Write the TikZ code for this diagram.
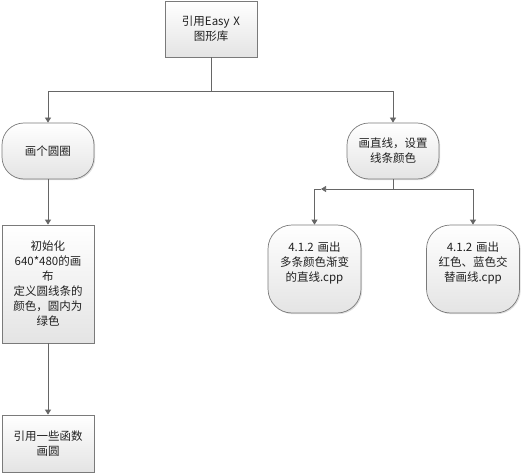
\documentclass[tikz,border=0pt]{standalone}
\usepackage{fontspec}
\setmainfont{Noto Sans CJK SC}
\usetikzlibrary{shadows,arrows.meta}
\definecolor{edgegray}{HTML}{7A7A7A}
\definecolor{linegray}{HTML}{666666}
\definecolor{txt}{HTML}{202020}
\definecolor{fillbot}{HTML}{E4E4E4}
\tikzset{
  base/.style={draw=edgegray, line width=0.7pt, top color=white, bottom color=fillbot,
    text=txt, align=center, font=\fontsize{11.5}{15}\selectfont, inner sep=1pt,
    drop shadow={opacity=0.25, shadow xshift=1.2pt, shadow yshift=-1.2pt}},
  sqbox/.style={base, rectangle, minimum width=92pt, text width=88pt},
  rbox/.style={base, rectangle, rounded corners=22pt, minimum width=92pt, minimum height=56pt, text width=86pt},
  bbox/.style={base, rectangle, rounded corners=24pt, minimum width=93pt, minimum height=88pt, text width=88pt},
  conn/.style={draw=linegray, line width=0.7pt},
  arr/.style={conn, -{Triangle[width=6pt,length=5pt]}, color=linegray}
}
\begin{document}
\begin{tikzpicture}[x=1pt,y=-1pt]
\useasboundingbox (0,0) rectangle (530,476);
\node[sqbox, minimum height=56pt] (top) at (211,29) {引用Easy X\\图形库};
\node[rbox] (l1) at (48,151) {画个圆圈};
\node[rbox] (r1) at (393,151) {画直线，设置\\线条颜色};
\node[sqbox, minimum height=118pt] (l2) at (48,284) {初始化\\640*480的画\\布\\定义圆线条的\\颜色，圆内为\\绿色};
\node[sqbox, minimum height=57pt] (l3) at (48,443.5) {引用一些函数\\画圆};
\node[bbox] (b1) at (314.5,269) {4.1.2 画出\\多条颜色渐变\\的直线.cpp\\\mbox{}};
\node[bbox] (b2) at (473,269) {4.1.2 画出\\红色、蓝色交\\替画线.cpp\\\mbox{}};
\coordinate (j1) at (211,91);
\coordinate (j2) at (393,189);
\coordinate (m) at (321,189);
\draw[conn] (top.south) -- (j1);
\draw[arr] (j1) -| (l1.north);
\draw[arr] (j1) -| (r1.north);
\draw[arr] (l1.south) -- (l2.north);
\draw[arr] (l2.south) -- (l3.north);
\draw[conn] (r1.south) -- (j2);
\draw[arr] (j2) -- (m);
\draw[arr] (m) -| (b1.north);
\draw[arr] (j2) -| (b2.north);
\end{tikzpicture}
\end{document}
